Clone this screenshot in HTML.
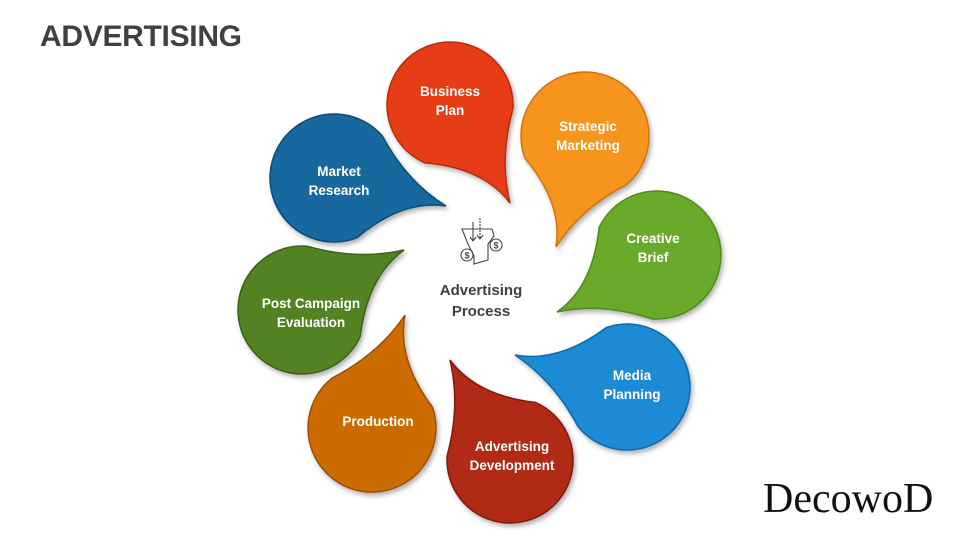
<!DOCTYPE html>
<html><head><meta charset="utf-8"><style>
body{margin:0;width:960px;height:540px;background:#fff;overflow:hidden;position:relative;font-family:"Liberation Sans",sans-serif}
svg{position:absolute;left:0;top:0}
.t{font-family:"Liberation Sans",sans-serif;font-weight:bold;font-size:13.5px;fill:#fff;text-anchor:middle}
</style></head><body>
<svg id="s" width="960" height="540" viewBox="0 0 960 540">
<defs><filter id="sh" x="-20%" y="-20%" width="140%" height="140%"><feDropShadow dx="2" dy="3" stdDeviation="2.5" flood-color="#000" flood-opacity="0.3"/></filter></defs>
<g id="shapes" filter="url(#sh)"></g>
<text x="40" y="46" font-family="Liberation Sans" font-weight="bold" font-size="30" fill="#404040" letter-spacing="-0.3">ADVERTISING</text>
<text x="763" y="512" font-family="Liberation Serif" font-size="42" fill="#111">DecowoD</text>
<g fill="none" stroke="#444" stroke-width="1.1">
<path d="M462 229 L492 229 L494 236 L488 244 L488 260 L474 264 L474 256 L468 244 Z"/>
<line x1="473" y1="222" x2="473" y2="240"/><path d="M470 237 L473 241 L476 237"/>
<line x1="480" y1="218" x2="480" y2="238" stroke-dasharray="2 1"/><path d="M477 235 L480 239 L483 235"/>
<circle cx="467" cy="255" r="6"/><circle cx="496" cy="245" r="6"/>
</g>
<text x="467" y="258.5" font-size="9" font-weight="bold" fill="#444" text-anchor="middle" font-family="Liberation Sans">$</text>
<text x="496" y="248.5" font-size="9" font-weight="bold" fill="#444" text-anchor="middle" font-family="Liberation Sans">$</text>
<text x="481" y="295" font-size="15" font-weight="bold" fill="#404040" text-anchor="middle" font-family="Liberation Sans">Advertising</text>
<text x="481" y="316" font-size="15" font-weight="bold" fill="#404040" text-anchor="middle" font-family="Liberation Sans">Process</text>
<g id="labels">
<text class="t" x="450" y="96">Business</text><text class="t" x="450" y="115">Plan</text>
<text class="t" x="588" y="131">Strategic</text><text class="t" x="588" y="150">Marketing</text>
<text class="t" x="653" y="243">Creative</text><text class="t" x="653" y="262">Brief</text>
<text class="t" x="632" y="380">Media</text><text class="t" x="632" y="399">Planning</text>
<text class="t" x="512" y="451">Advertising</text><text class="t" x="512" y="470">Development</text>
<text class="t" x="378" y="426">Production</text>
<text class="t" x="311" y="308">Post Campaign</text><text class="t" x="311" y="327">Evaluation</text>
<text class="t" x="339" y="176">Market</text><text class="t" x="339" y="195">Research</text>
</g>
</svg>
<script>
var d=[
[450,105,63,510,203,"#e63c17","#b82c0c"],
[585,136,64,556,247,"#f7941d","#d07310"],
[657,255,64,557,312,"#6aaa2a","#4f8a1a"],
[627,387,63,515,355,"#1a8ad4","#116aa8"],
[510,460,63,450,360,"#b02a12","#7d1d0b"],
[372,428,64,405,315,"#cc6c06","#9c5004"],
[302,310,64,404,250,"#538221","#3c6215"],
[334,178,64,446,206,"#12689f","#0b4d78"]];
var g=document.getElementById('shapes'),h='';
d.forEach(function(a){var cx=a[0],cy=a[1],r=a[2],px=a[3],py=a[4];
var th=Math.atan2(py-cy,px-cx),al=55*Math.PI/180;
var ax=cx+r*Math.cos(th+al),ay=cy+r*Math.sin(th+al),bx=cx+r*Math.cos(th-al),by=cy+r*Math.sin(th-al);
var k=0.62,qx=cx+(px-cx)*k,qy=cy+(py-cy)*k;
var sw=0.12,nx=-(py-cy)*sw,ny=(px-cx)*sw;
h+='<path d="M'+ax.toFixed(1)+' '+ay.toFixed(1)+' A'+r+' '+r+' 0 1 1 '+bx.toFixed(1)+' '+by.toFixed(1)+' Q'+(qx-nx).toFixed(1)+' '+(qy-ny).toFixed(1)+' '+px+' '+py+' Q'+(qx+nx*0.3).toFixed(1)+' '+(qy+ny*0.3).toFixed(1)+' '+ax.toFixed(1)+' '+ay.toFixed(1)+'Z" fill="'+a[5]+'" stroke="'+a[6]+'" stroke-width="1.5"/>';});
g.innerHTML=h;
</script>
</body></html>
